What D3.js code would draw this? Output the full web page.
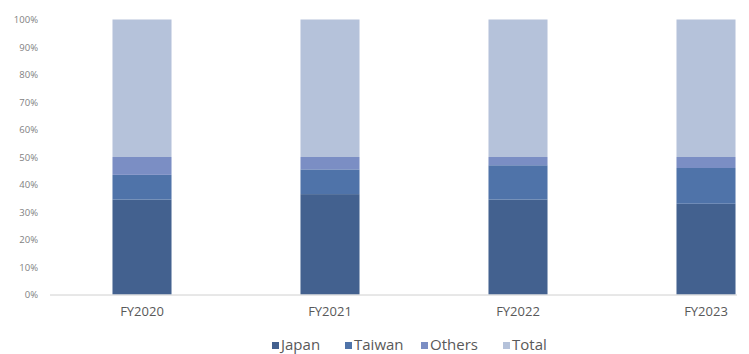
<!DOCTYPE html>
<html>
<head>
<meta charset="utf-8">
<script src="https://cdn.jsdelivr.net/npm/d3@7"></script>
<style>
  html, body { margin: 0; padding: 0; background: #fff; }
  svg text { font-family: "Open Sans", "Noto Sans", sans-serif; }
</style>
</head>
<body>
<div id="chart"></div>
<script>
// Data (percent of total)
const years = ['FY2020', 'FY2021', 'FY2022', 'FY2023'];
const seriesNames = ['Japan', 'Taiwan', 'Others', 'Total'];
const japan = [34.5, 36.5, 34.5, 33];
const taiwan = [9, 9, 12.5, 13];
const others = [6.5, 4.5, 3, 4];
const total = [50, 50, 50, 50];
const yTicks = [0, 10, 20, 30, 40, 50, 60, 70, 80, 90, 100];

const colors = {
  Japan: '#43618f',
  Taiwan: '#4f73a9',
  Others: '#7b8ec4',
  Total: '#b5c2da'
};

const width = 749;
const height = 354;

const rows = years.map((y, i) => ({
  year: y,
  Japan: japan[i],
  Taiwan: taiwan[i],
  Others: others[i],
  Total: total[i]
}));

const svg = d3.select('#chart')
  .append('svg')
  .attr('width', width)
  .attr('height', height);

const x = d3.scaleBand()
  .domain(years)
  .range([48, 800])
  .paddingInner(0.686)
  .paddingOuter(0.343);

const y = d3.scaleLinear()
  .domain([0, 100])
  .range([294.5, 19.5]);

const stacked = d3.stack().keys(seriesNames)(rows);

// Bars
svg.append('g')
  .selectAll('g')
  .data(stacked)
  .enter()
  .append('g')
  .attr('fill', d => colors[d.key])
  .selectAll('rect')
  .data(d => d)
  .enter()
  .append('rect')
  .attr('x', d => x(d.data.year))
  .attr('width', x.bandwidth())
  .attr('y', d => y(d[1]))
  .attr('height', d => y(d[0]) - y(d[1]));

// Y axis (labels only)
const yAxis = svg.append('g')
  .attr('transform', 'translate(38,0)')
  .call(d3.axisLeft(y).tickValues(yTicks).tickSize(0).tickPadding(0).tickFormat(d => d + '%'));
yAxis.select('.domain').remove();
yAxis.selectAll('text')
  .attr('fill', '#7f7f7f')
  .style('font-size', '9.5px');

// X axis
const xAxis = svg.append('g')
  .attr('transform', `translate(0,${y(0)})`)
  .call(d3.axisBottom(x).tickSize(0).tickPadding(12));
xAxis.select('.domain').remove();
xAxis.selectAll('text')
  .attr('fill', '#595959')
  .style('font-size', '13px');

svg.append('line')
  .attr('x1', 50)
  .attr('x2', 737)
  .attr('y1', y(0) + 0.5)
  .attr('y2', y(0) + 0.5)
  .attr('stroke', '#d0d0d0')
  .attr('stroke-width', 1);

// Legend
const legendX = [272, 345, 421, 503];
const legend = svg.append('g')
  .selectAll('g')
  .data(seriesNames)
  .enter()
  .append('g')
  .attr('transform', (d, i) => `translate(${legendX[i]},342)`);

legend.append('rect')
  .attr('y', 0)
  .attr('width', 7)
  .attr('height', 7)
  .attr('fill', d => colors[d]);

legend.append('text')
  .attr('x', 9)
  .attr('y', 8)
  .attr('fill', '#595959')
  .style('font-size', '15px')
  .text(d => d);
</script>
</body>
</html>
